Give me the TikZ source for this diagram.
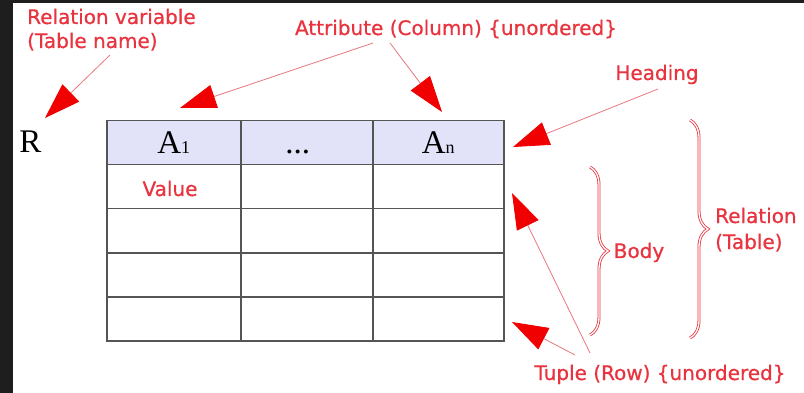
\documentclass[tikz,border=0pt]{standalone}
\usepackage{fontspec}
\newfontfamily\labfont[FakeBold=0.7]{DejaVu Sans}
\newfontfamily\tabserif{Liberation Serif}
\usetikzlibrary{arrows.meta,decorations.pathreplacing}
\definecolor{lblred}{HTML}{E8343F}
\definecolor{linered}{HTML}{E87880}
\definecolor{tipred}{HTML}{F00000}
\definecolor{headfill}{HTML}{E2E2F8}
\definecolor{gridgray}{HTML}{555555}
\definecolor{framedark}{HTML}{1E1E1E}
\begin{document}
\begin{tikzpicture}[x=1pt,y=-1pt,
  lbl/.style={font=\labfont\fontsize{20}{24}\selectfont, text=lblred, inner sep=0pt, anchor=base},
  serifbig/.style={font=\tabserif\fontsize{33}{33}\selectfont},
  cell/.style={draw=gridgray, line width=1.5pt, minimum height=44pt, inner sep=0pt,
    anchor=north west, text height=22pt, text depth=0pt},
  headcell/.style={cell, fill=headfill, serifbig},
  ptr/.style={draw=linered, line width=0.8pt, -{Triangle[length=36pt,width=24pt,color=tipred]}},
  brc/.style={decorate, decoration={brace, amplitude=18pt}, draw=lblred, line width=0.8pt,
    double=white, double distance=1.3pt}
]
% frame of the screenshot
\fill[framedark] (0,0) rectangle (804,393);
\fill[white] (13,3) rectangle (804,393);

% table
\node[headcell, minimum width=134pt] (h1) at (106,120) {A\fontsize{18}{18}\selectfont 1};
\node[headcell, minimum width=132pt] (h2) at (240,120) {\hspace*{-18pt}...};
\node[headcell, minimum width=131pt] (h3) at (372,120) {A\fontsize{18}{18}\selectfont n};
\foreach \r/\y in {1/164,2/208,3/252,4/296}{
  \node[cell, minimum width=134pt] (c1r\r) at (106,\y) {};
  \node[cell, minimum width=132pt] (c2r\r) at (240,\y) {};
  \node[cell, minimum width=131pt] (c3r\r) at (372,\y) {};
}
\node[lbl] (value) at (170,196) {Value};
\node[serifbig, anchor=base, inner sep=0pt] (R) at (30.5,153) {R};

% labels
\node[lbl, anchor=base west] (relvar) at (27,24) {Relation variable};
\node[lbl, anchor=base west] (tabname) at (27,48) {(Table name)};
\node[lbl] (attr) at (456,35) {Attribute (Column) \{unordered\}};
\node[lbl] (heading) at (657,80) {Heading};
\node[lbl] (body) at (639,258) {Body};
\node[lbl, anchor=base west] (relation) at (715,223) {Relation};
\node[lbl, anchor=base west] (tablelbl) at (715,249) {(Table)};
\node[lbl] (tuple) at (660,380) {Tuple (Row) \{unordered\}};

% arrow ends
\coordinate (sR) at (110,55);   \coordinate (tR) at (45,118);
\coordinate (sA1) at (373,43);  \coordinate (tA1) at (180,108);
\coordinate (sAn) at (390,43);  \coordinate (tAn) at (442,112);
\coordinate (sH) at (658,89);   \coordinate (tH) at (513,147);
\coordinate (sT1) at (590,353); \coordinate (tT1) at (512,193);
\coordinate (sT2) at (575,355); \coordinate (tT2) at (512,322);

\draw[ptr] (sR) -- (tR);
\draw[ptr] (sA1) -- (tA1);
\draw[ptr] (sAn) -- (tAn);
\draw[ptr] (sH) -- (tH);
\draw[ptr] (sT1) -- (tT1);
\draw[ptr] (sT2) -- (tT2);

% braces
\coordinate (bTop) at (590,167); \coordinate (bBot) at (590,335);
\coordinate (rTop) at (690,120); \coordinate (rBot) at (690,338);
\draw[brc] (bTop) -- (bBot);
\draw[brc] (rTop) -- (rBot);
\end{tikzpicture}
\end{document}
